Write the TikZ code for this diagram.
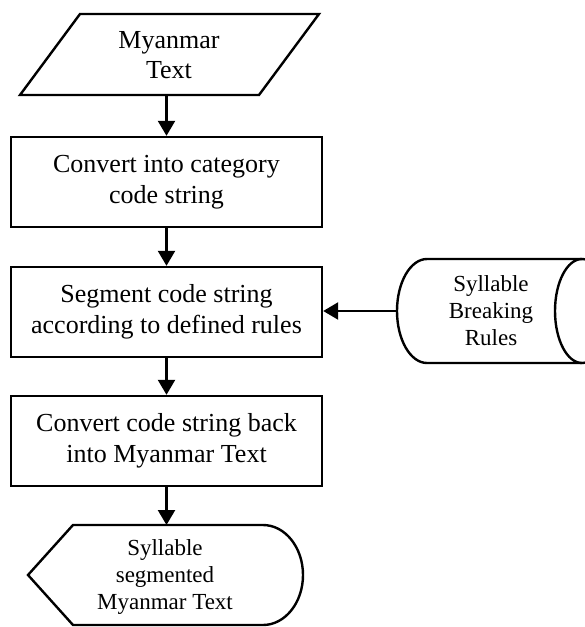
\documentclass[tikz,border=0pt]{standalone}
\usepackage{fontspec}
\setmainfont{Liberation Serif}
\usetikzlibrary{arrows.meta}
\begin{document}
\begin{tikzpicture}[x=1pt, y=1pt, line width=2.4pt, >={Triangle[width=17pt,length=15pt]},
    process/.style={draw, rectangle, minimum width=311pt, minimum height=90pt, inner sep=0pt, align=center, font=\fontsize{26}{31}\selectfont},
    bigtext/.style={inner sep=0pt, align=center, font=\fontsize{26}{30}\selectfont},
    smalltext/.style={inner sep=0pt, align=center, font=\fontsize{23}{27}\selectfont}]
    \useasboundingbox (0,0) rectangle (585,-627);

    % input
    \draw (80,-14) -- (319,-14) -- (259,-95) -- (20,-95) -- cycle;
    \node[bigtext] (input) at (169,-55) {Myanmar\\Text};
    \coordinate (input-s) at (166.5,-95);

    \node[process] (convert) at (166.5,-182) {Convert into category\\code string};
    \node[process] (segment) at (166.5,-312) {Segment code string\\according to defined rules};
    \node[process] (back) at (166.5,-441) {Convert code string back\\into Myanmar Text};

    % stored rules
    \draw (582,-259) -- (427,-259) arc[start angle=90, end angle=270, x radius=30pt, y radius=52pt] -- (582,-363);
    \draw (582,-311) ellipse [x radius=27pt, y radius=52pt];
    \node[smalltext] (rules) at (491,-311) {Syllable\\Breaking\\Rules};
    \coordinate (rules-w) at (397,-311);

    % output
    \draw (73,-525) -- (263,-525) arc[start angle=90, end angle=-90, x radius=40pt, y radius=50pt] -- (73,-625) -- (28,-575) -- cycle;
    \node[smalltext] (output) at (165,-577) {Syllable\\segmented\\Myanmar Text};
    \coordinate (output-n) at (166.5,-525);

    \draw [->] (input-s) -- (convert);
    \draw [->] (convert) -- (segment);
    \draw [->] (segment) -- (back);
    \draw [->] (back) -- (output-n);
    \draw [->] (rules-w) -- (rules-w -| segment.east);
\end{tikzpicture}
\end{document}
